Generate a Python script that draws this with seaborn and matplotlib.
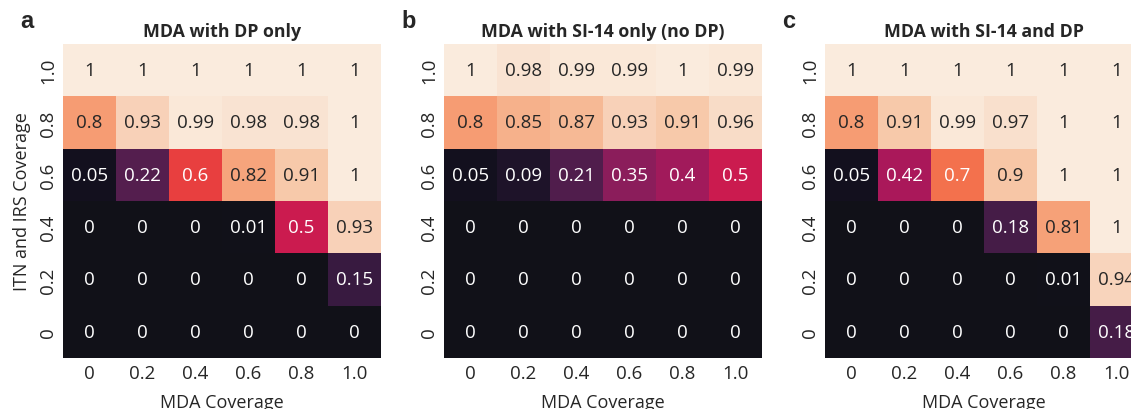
import numpy as np
import pandas as pd
import matplotlib
matplotlib.use("Agg")
import matplotlib.pyplot as plt
from matplotlib.colors import ListedColormap
import seaborn as sns

mda_cov = ["0", "0.2", "0.4", "0.6", "0.8", "1.0"]
itn_cov = ["1.0", "0.8", "0.6", "0.4", "0.2", "0"]  # top to bottom

titles = ["MDA with DP only", "MDA with SI-14 only (no DP)", "MDA with SI-14 and DP"]
letters = ["a", "b", "c"]

dp_only = [
    [1, 1, 1, 1, 1, 1],
    [0.8, 0.93, 0.99, 0.98, 0.98, 1],
    [0.05, 0.22, 0.6, 0.82, 0.91, 1],
    [0, 0, 0, 0.01, 0.5, 0.93],
    [0, 0, 0, 0, 0, 0.15],
    [0, 0, 0, 0, 0, 0],
]
si14_only = [
    [1, 0.98, 0.99, 0.99, 1, 0.99],
    [0.8, 0.85, 0.87, 0.93, 0.91, 0.96],
    [0.05, 0.09, 0.21, 0.35, 0.4, 0.5],
    [0, 0, 0, 0, 0, 0],
    [0, 0, 0, 0, 0, 0],
    [0, 0, 0, 0, 0, 0],
]
si14_dp = [
    [1, 1, 1, 1, 1, 1],
    [0.8, 0.91, 0.99, 0.97, 1, 1],
    [0.05, 0.42, 0.7, 0.9, 1, 1],
    [0, 0, 0, 0.18, 0.81, 1],
    [0, 0, 0, 0, 0.01, 0.94],
    [0, 0, 0, 0, 0, 0.18],
]

sns.set_theme(style="white")
plt.rcParams['font.family'] = ['Open Sans', 'DejaVu Sans']

# rocket palette, with its darkest end rendered as the charcoal seen in the reference
base = np.array(sns.color_palette("rocket", 256))
t = np.linspace(0, 1, 256)
a = np.clip(1 - t / 0.14, 0, 1)[:, None] * 0.85
charcoal = np.array([0.078, 0.075, 0.094])
cols = base * (1 - a) + charcoal * a
cmap = ListedColormap(cols)

W, H = 1131, 410
fig = plt.figure(figsize=(W / 100, H / 100), dpi=100)

lefts = [63, 444, 825]
cell = 53
top_px, bot_px = 45, 359

for i, (data, title, letter) in enumerate(zip([dp_only, si14_only, si14_dp], titles, letters)):
    l = lefts[i]
    ax = fig.add_axes([l / W, 1 - bot_px / H, 6 * cell / W, (bot_px - top_px) / H])
    df = pd.DataFrame(data, index=itn_cov, columns=mda_cov)
    sns.heatmap(df, ax=ax, cmap=cmap, vmin=0, vmax=1, cbar=False,
                annot=True, fmt="g", annot_kws={"fontsize": 13.5})
    ax.set_title(title, fontsize=12.8, fontweight="bold", pad=6)
    ax.tick_params(length=0, labelsize=13.5, pad=4)
    ax.set_yticklabels(ax.get_yticklabels(), rotation=90, va="center")
    ax.set_xticklabels(ax.get_xticklabels(), rotation=0)
    ax.set_xlabel("MDA Coverage", fontsize=13, labelpad=8)
    if i == 0:
        ax.set_ylabel("ITN and IRS Coverage", fontsize=13, labelpad=6)
    else:
        ax.set_ylabel("")
    fig.text((l - 43) / W, 1 - 22 / H, letter, fontsize=17, fontweight="bold",
             family="Liberation Sans", ha="left", va="center")

fig.savefig("out.png", dpi=100)
